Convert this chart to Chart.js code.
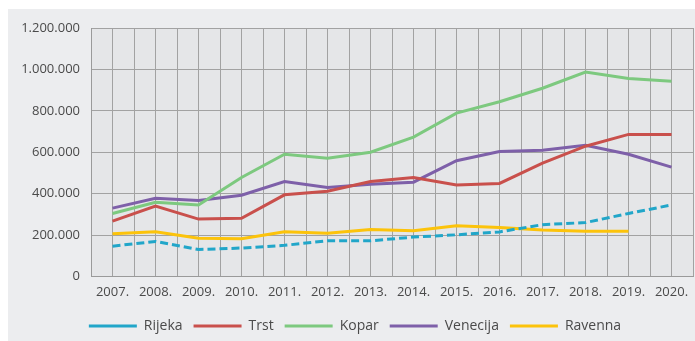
<!DOCTYPE html>
<html>
<head>
<meta charset="utf-8">
<script src="https://cdn.jsdelivr.net/npm/chart.js@4/dist/chart.umd.min.js"></script>
<style>
  html, body { margin: 0; padding: 0; background: #fff; }
  #wrap { position: relative; width: 695px; height: 341px; }
</style>
</head>
<body>
<div id="wrap"><canvas id="portChart" width="695" height="341"></canvas></div>
<script>
const years = [2007, 2008, 2009, 2010, 2011, 2012, 2013, 2014, 2015, 2016, 2017, 2018, 2019, 2020];
const rijeka   = [146000, 169000, 130000, 137000, 150000, 172000, 172000, 190000, 201000, 215000, 250000, 260000, 304000, 345000];
const trst     = [267000, 340000, 277000, 281000, 394000, 411000, 458000, 478000, 442000, 449000, 547000, 629000, 686000, 686000];
const kopar    = [304000, 358000, 345000, 478000, 590000, 571000, 600000, 673000, 789000, 844000, 909000, 987000, 956000, 943000];
const venecija = [330000, 377000, 367000, 392000, 458000, 429000, 445000, 455000, 559000, 603000, 610000, 633000, 590000, 528000];
const ravenna  = [206000, 216000, 184000, 182000, 216000, 208000, 226000, 221000, 245000, 236000, 224000, 218000, 218000, null];
const yTicks = [0, 200000, 400000, 600000, 800000, 1000000, 1200000];

const toPoints = (arr) => years.map((y, i) => ({ x: y, y: arr[i] }));
const fmt = (v) => v.toString().replace(/\B(?=(\d{3})+(?!\d))/g, '.');

// panel and plot backgrounds
const bgPlugin = {
    id: 'bgPlugin',
    beforeDraw(chart) {
        const { ctx, chartArea } = chart;
        ctx.save();
        ctx.fillStyle = '#ecedef';
        ctx.fillRect(8, 9, chart.width - 8, chart.height - 9);
        ctx.fillStyle = '#e5e6e8';
        ctx.fillRect(chartArea.left, chartArea.top, chartArea.right - chartArea.left, chartArea.bottom - chartArea.top);
        ctx.restore();
    }
};

const line = (label, data, color, dash) => ({
    label,
    data: toPoints(data),
    borderColor: color,
    backgroundColor: color,
    borderWidth: 3,
    borderDash: dash || [],
    pointRadius: 0,
    tension: 0,
    spanGaps: false
});

const ctx = document.getElementById('portChart').getContext('2d');
new Chart(ctx, {
    type: 'line',
    data: {
        datasets: [
            line('Rijeka', rijeka, '#21a6c9', [8, 4]),
            line('Trst', trst, '#c9504c'),
            line('Kopar', kopar, '#7dc97f'),
            line('Venecija', venecija, '#7e60a9'),
            line('Ravenna', ravenna, '#fcc30b')
        ]
    },
    plugins: [bgPlugin],
    options: {
        responsive: false,
        animation: false,
        layout: { padding: { left: 17, right: 2, top: 28, bottom: -2 } },
        plugins: {
            tooltip: { enabled: false },
            legend: {
                position: 'bottom',
                labels: {
                    usePointStyle: true,
                    pointStyle: 'line',
                    pointStyleWidth: 48,
                    boxHeight: 14,
                    padding: 11,
                    color: '#4a4a4a',
                    font: { family: 'Open Sans', size: 14 }
                }
            }
        },
        scales: {
            x: {
                type: 'linear',
                min: 2006.5,
                max: 2020.5,
                afterBuildTicks(scale) {
                    const t = [];
                    for (let v = 2006.5; v <= 2020.5; v += 0.5) t.push({ value: v });
                    scale.ticks = t;
                },
                // no extra room on the right for the empty end tick
                afterFit(scale) { scale.paddingRight = 0; },
                ticks: {
                    autoSkip: false,
                    maxRotation: 0,
                    padding: 8,
                    color: '#4a4a4a',
                    font: { family: 'Open Sans', size: 13 },
                    callback: (v) => Number.isInteger(v) ? v + '.' : ''
                },
                grid: { color: '#a2a2a2', lineWidth: 1, drawTicks: false },
                border: { color: '#9a9a9a', width: 1 }
            },
            y: {
                min: 0,
                max: 1200000,
                afterBuildTicks(scale) {
                    scale.ticks = yTicks.map((v) => ({ value: v }));
                },
                afterFit(scale) { scale.width = 74; },
                ticks: {
                    padding: 11,
                    color: '#4a4a4a',
                    font: { family: 'Open Sans', size: 13 },
                    callback: (v) => fmt(v)
                },
                grid: { color: '#a2a2a2', lineWidth: 1, drawTicks: false },
                border: { color: '#9a9a9a', width: 1 }
            }
        }
    }
});
</script>
</body>
</html>
